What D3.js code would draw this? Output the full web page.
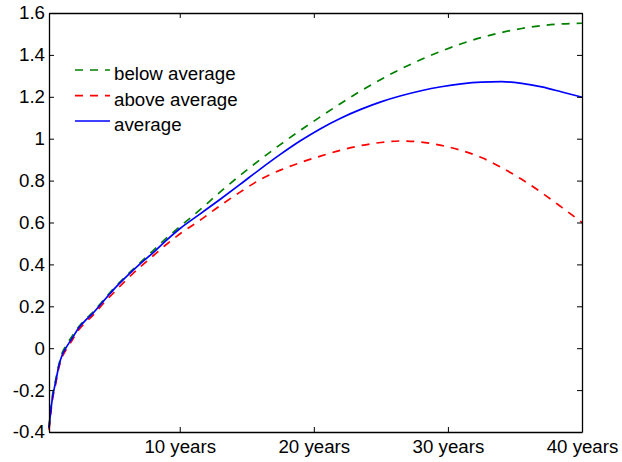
<!DOCTYPE html>
<html><head><meta charset="utf-8">
<script src="https://cdn.jsdelivr.net/npm/d3@7"></script>
<style>body{margin:0;background:#fff}svg{display:block}text{font-family:"Liberation Sans",Arial,sans-serif}</style>
</head><body><svg id="c" width="622" height="462"></svg>
<script>
const quarters = [1,2,3,4,5,6,8,10,12,14,17,20,24,28,32,36,40,46,52,58,64,70,76,82,88,94,100,106,112,118,124,130,136,142,148,154,160];
const belowAvg = [-0.38,-0.23,-0.15,-0.075,-0.02,0.01,0.06,0.105,0.14,0.17,0.225,0.28,0.345,0.405,0.465,0.525,0.58,0.66,0.745,0.825,0.9,0.972,1.04,1.105,1.168,1.228,1.283,1.333,1.378,1.418,1.453,1.483,1.507,1.526,1.54,1.548,1.551];
const aboveAvg = [-0.39,-0.25,-0.17,-0.09,-0.04,-0.01,0.04,0.09,0.125,0.155,0.21,0.26,0.325,0.385,0.44,0.495,0.545,0.61,0.68,0.745,0.805,0.85,0.886,0.917,0.945,0.967,0.982,0.989,0.984,0.968,0.944,0.91,0.862,0.806,0.742,0.672,0.60];
const average = [-0.38,-0.24,-0.16,-0.08,-0.03,0.0,0.05,0.10,0.135,0.165,0.22,0.275,0.34,0.40,0.455,0.515,0.57,0.64,0.71,0.782,0.855,0.925,0.99,1.048,1.098,1.14,1.176,1.205,1.229,1.248,1.262,1.27,1.272,1.264,1.247,1.223,1.198];
const xTicks = [40,80,120,160];
const xTickLabels = ["10 years","20 years","30 years","40 years"];
const yTicks = [-0.4,-0.2,0,0.2,0.4,0.6,0.8,1,1.2,1.4,1.6];
const seriesNames = ["below average","above average","average"];
const seriesColors = ["#008000","#ff0000","#0000ff"];

const L=49,R=582,T=13,B=432;
const svg=d3.select("#c");
const x=d3.scaleLinear().domain([1,160]).range([L,R]);
const y=d3.scaleLinear().domain([-0.4,1.6]).range([B,T]);
const fs="18.7px";

const series=[belowAvg,aboveAvg,average];
const dashes=["8,7","8,7",null];
const line=d3.line().x((d,i)=>x(quarters[i])).y(d=>y(d)).curve(d3.curveMonotoneX);
const plot=svg.append("g");
series.forEach((s,k)=>{
  plot.append("path").datum(s).attr("d",line).attr("fill","none")
    .attr("stroke",seriesColors[k]).attr("stroke-width",1.7)
    .attr("stroke-dasharray",dashes[k]);
});

const ax=svg.append("g");
const fmtY=d=>String(+d.toFixed(1));
const axB=d3.axisBottom(x).tickValues(xTicks).tickSizeInner(-5).tickSizeOuter(0).tickPadding(8).tickFormat((d,i)=>xTickLabels[i]);
const axT=d3.axisTop(x).tickValues(xTicks).tickSizeInner(-5).tickSizeOuter(0).tickFormat("");
const axL=d3.axisLeft(y).tickValues(yTicks).tickSizeInner(-5).tickSizeOuter(0).tickPadding(4).tickFormat(fmtY);
const axR=d3.axisRight(y).tickValues(yTicks).tickSizeInner(-5).tickSizeOuter(0).tickFormat("");
[[axB,`translate(0,${B})`],[axT,`translate(0,${T})`],[axL,`translate(${L},0)`],[axR,`translate(${R},0)`]].forEach(([a,t])=>{
  const g=ax.append("g").attr("transform",t).call(a);
  g.select(".domain").attr("stroke","#000").attr("stroke-width",1.3);
  g.selectAll(".tick line").attr("stroke","#000").attr("stroke-width",1);
  g.selectAll("text").attr("fill","#000").style("font-size",fs).style("font-family",'"Liberation Sans",Arial,sans-serif');
});

const leg=svg.append("g");
const rows=[70,95.7,121];
seriesNames.forEach((n,k)=>{
  leg.append("line").attr("x1",75).attr("x2",110).attr("y1",rows[k]).attr("y2",rows[k])
    .attr("stroke",seriesColors[k]).attr("stroke-width",1.7).attr("stroke-dasharray",dashes[k]);
  leg.append("text").attr("x",114).attr("y",rows[k]+10).text(n)
    .style("font-size",fs).attr("fill","#000");
});
</script></body></html>
